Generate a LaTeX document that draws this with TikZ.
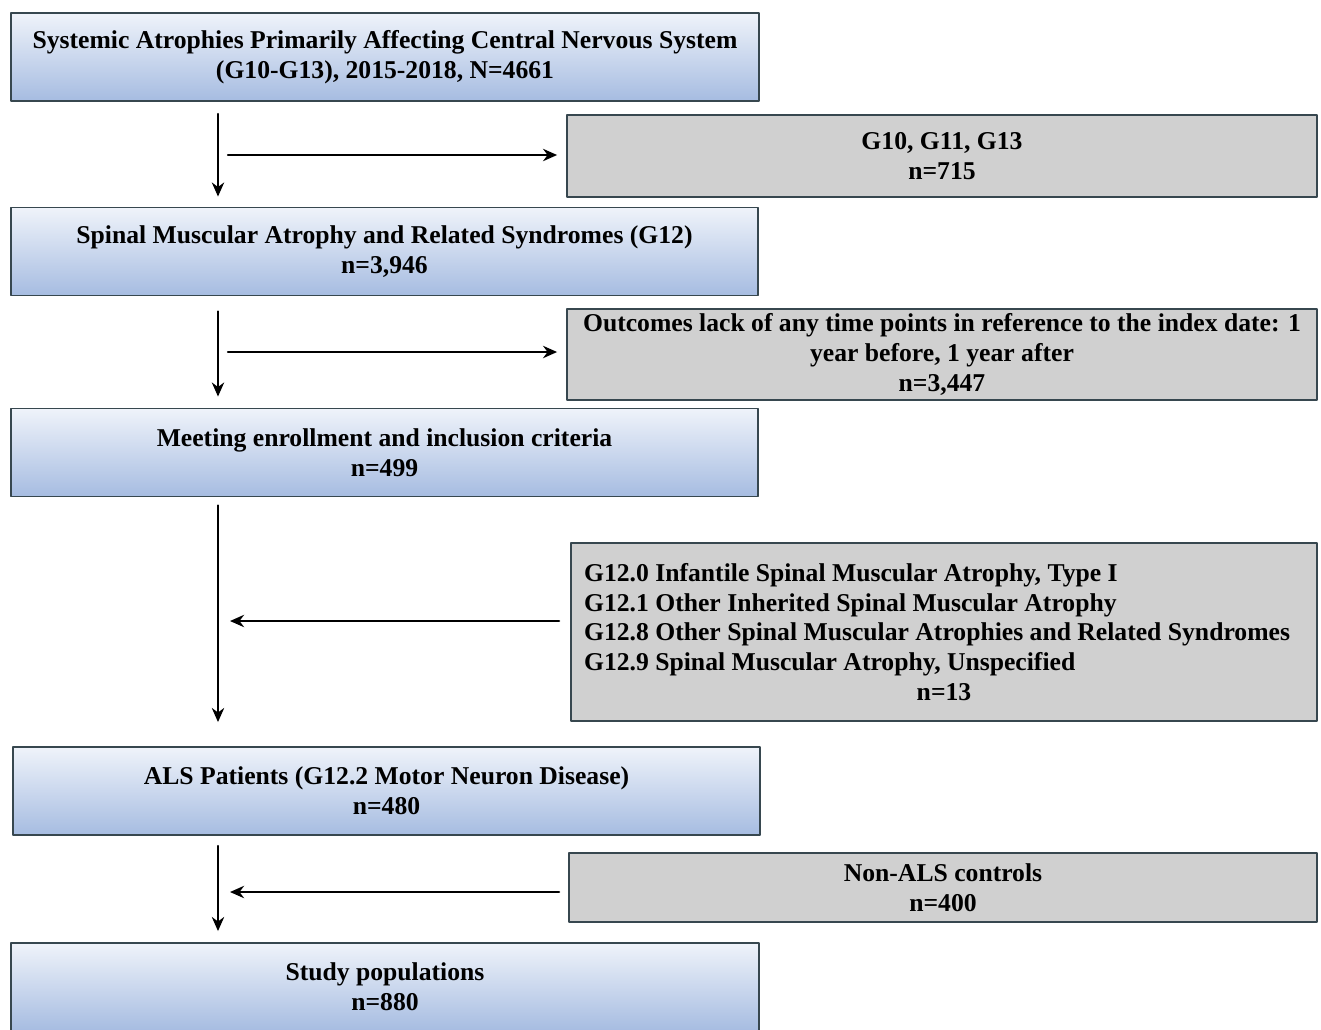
\documentclass[tikz,border=0pt]{standalone}
\usepackage{fontspec}
\setmainfont{Liberation Serif}
\usetikzlibrary{arrows.meta}

\definecolor{boxtop}{HTML}{EFF3FA}
\definecolor{boxbot}{HTML}{A6BCE1}
\definecolor{boxline}{HTML}{37474F}
\definecolor{exclfill}{HTML}{D0D0D0}

\begin{document}
\begin{tikzpicture}[x=0.02cm,y=-0.02cm,line cap=round,line join=round,
  >={Stealth[length=8pt,width=7pt]},
  font=\fontsize{14.6}{17}\selectfont\bfseries,
  stagebox/.style={draw=boxline,line width=1.1pt,top color=boxtop,bottom color=boxbot,
    minimum width=14.96cm,minimum height=1.76cm,align=center,inner sep=0pt},
  exclbox/.style={draw=boxline,line width=1.1pt,fill=exclfill,
    minimum width=15cm,align=center,inner sep=0pt},
  flow/.style={->,line width=1.3pt}]

\useasboundingbox (0,0) rectangle (1321,1029);

% -----------------------
% Main stages (left column)
% -----------------------
\node[stagebox] (atro) at (385,57)
  {Systemic Atrophies Primarily Affecting Central Nervous System\\(G10-G13), 2015-2018, N=4661};
\node[stagebox] (sma) at (384.5,251.5)
  {Spinal Muscular Atrophy and Related Syndromes (G12)\\n=3,946};
\node[stagebox] (meet) at (384.5,452.5)
  {Meeting enrollment and inclusion criteria\\n=499};
\node[stagebox] (als) at (386.5,791)
  {ALS Patients (G12.2 Motor Neuron Disease)\\n=480};
\node[stagebox] (pop) at (385,987)
  {Study populations\\n=880};

% -----------------------
% Side boxes (right column)
% -----------------------
\node[exclbox,minimum height=1.64cm] (ex1) at (942,156)
  {G10, G11, G13\\n=715};
\node[exclbox,minimum height=1.82cm] (ex2) at (942,354.5)
  {Outcomes lack of any time points in reference to the index date: 1\\year before, 1 year after\\n=3,447};
\node[exclbox,minimum width=14.92cm,minimum height=3.56cm,text width=14.4cm,align=flush left] (ex3) at (944,632)
  {G12.0 Infantile Spinal Muscular Atrophy, Type I\\
   G12.1 Other Inherited Spinal Muscular Atrophy\\
   G12.8 Other Spinal Muscular Atrophies and Related Syndromes\\
   G12.9 Spinal Muscular Atrophy, Unspecified\\
   \makebox[\hsize]{n=13}};
\node[exclbox,minimum width=14.96cm,minimum height=1.38cm] (ex4) at (943,887.5)
  {Non-ALS controls\\n=400};

% -----------------------
% Connectors
% -----------------------
\coordinate (spine) at (218,0);

\draw[flow,shorten <=0.24cm,shorten >=0.2cm] (atro.south -| spine) -- (sma.north -| spine);
\draw[flow,shorten <=0.2cm,shorten >=0.18cm] ([yshift=0.02cm]ex1.west -| spine) -- ([yshift=0.02cm]ex1.west);

\draw[flow,shorten <=0.3cm,shorten >=0.22cm] (sma.south -| spine) -- (meet.north -| spine);
\draw[flow,shorten <=0.2cm,shorten >=0.18cm] ([yshift=0.05cm]ex2.west -| spine) -- ([yshift=0.05cm]ex2.west);

\draw[flow,shorten <=0.16cm,shorten >=0.48cm] (meet.south -| spine) -- (als.north -| spine);
\draw[flow,shorten <=0.22cm,shorten >=0.24cm] ([yshift=0.22cm]ex3.west) -- ([yshift=0.22cm]ex3.west -| spine);

\draw[flow,shorten <=0.2cm,shorten >=0.22cm] (als.south -| spine) -- (pop.north -| spine);
\draw[flow,shorten <=0.18cm,shorten >=0.24cm] ([yshift=-0.09cm]ex4.west) -- ([yshift=-0.09cm]ex4.west -| spine);

\end{tikzpicture}
\end{document}
